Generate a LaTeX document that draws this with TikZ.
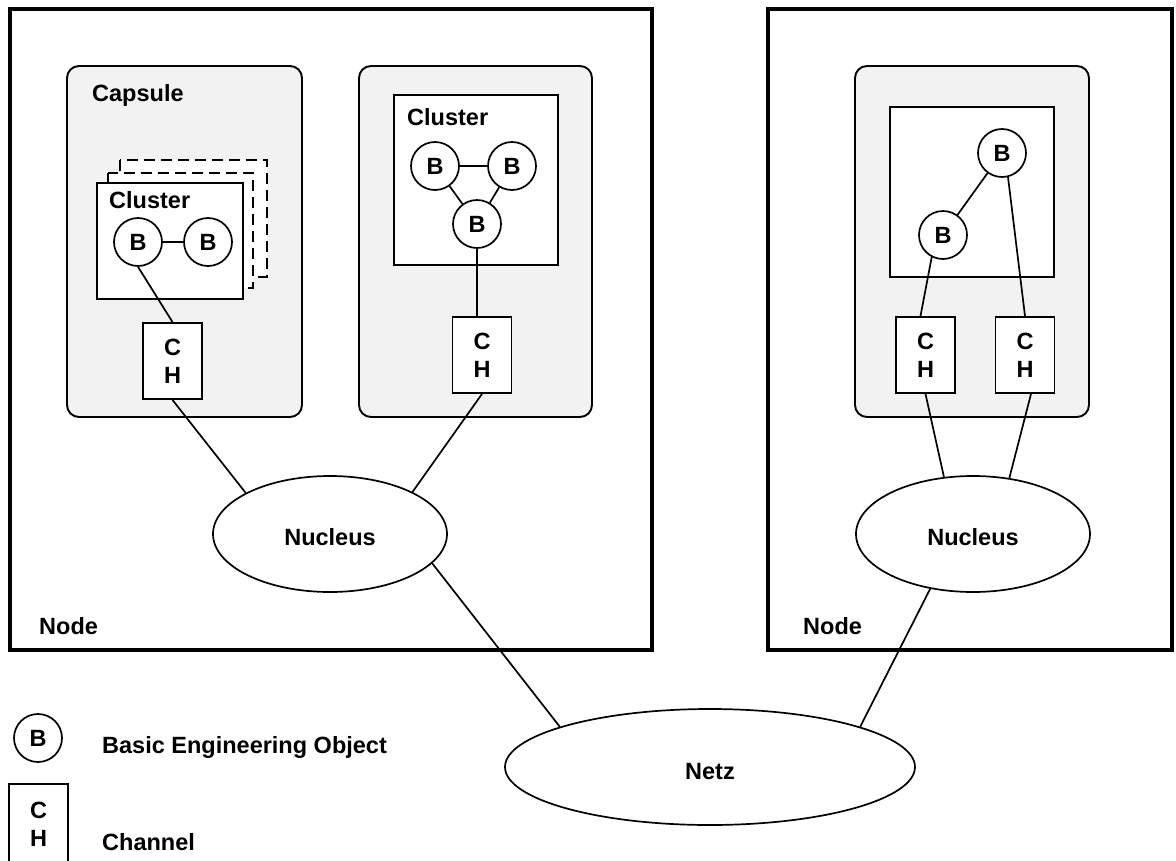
\documentclass[tikz,border=0pt]{standalone}
\usepackage{fontspec}
\setmainfont{Liberation Sans}
\usetikzlibrary{shapes.geometric}
\definecolor{capfill}{RGB}{242,242,242}

\begin{document}
\begin{tikzpicture}[x=1pt,y=-1pt,
  every node/.style={font=\fontsize{23.5}{28}\selectfont\bfseries},
  nodebox/.style={draw,line width=3.5pt},
  capsule/.style={draw,fill=capfill,rounded corners=12pt,line width=1.9pt},
  clusterbox/.style={draw,fill=white,line width=1.9pt},
  stacked/.style={clusterbox,dash pattern=on 11pt off 6pt},
  beo/.style={circle,draw,fill=white,line width=1.7pt,minimum size=48pt,inner sep=0pt},
  chan/.style={rectangle,draw,fill=white,line width=1.9pt,minimum width=59pt,
    minimum height=76pt,inner sep=0pt,align=center},
  kern/.style={ellipse,draw,fill=white,line width=1.7pt,inner sep=0pt,text depth=0pt},
  link/.style={line width=1.7pt},
  txt/.style={anchor=base west,inner sep=0pt}
]
\clip (0,0) rectangle (1176,860);
\fill[white] (0,0) rectangle (1176,860);

% engineering nodes
\draw[nodebox] (10,9) rectangle (652,650);
\draw[nodebox] (768,9) rectangle (1172,650);
\node[txt] (nodeLabelL) at (39,634) {Node};
\node[txt] (nodeLabelR) at (803,634) {Node};

% capsules
\draw[capsule] (67,66) rectangle (302,417);
\draw[capsule] (359,66) rectangle (592,417);
\draw[capsule] (855,66) rectangle (1089,417);
\node[txt] (capLabel) at (92,101) {Capsule};

% capsule 1: stacked clusters
\draw[stacked] (120,160) rectangle (267,277);
\draw[stacked] (108,173) rectangle (253,288);
\draw[clusterbox] (97,183) rectangle (243,299);
\node[txt] (cl1Label) at (109,208) {Cluster};
\node[beo] (b1a) at (138,242) {B};
\node[beo] (b1b) at (208,242) {B};
\node[chan] (ch1) at (172.5,361) {C\\H};
\draw[link] (b1a) -- (b1b);
\draw[link] (b1a.south) -- (ch1.north);

% capsule 2
\draw[clusterbox] (394,95) rectangle (558,265);
\node[txt] (cl2Label) at (407,125) {Cluster};
\node[beo] (b2a) at (435,166) {B};
\node[beo] (b2b) at (512,166) {B};
\node[beo] (b2c) at (477,224) {B};
\node[chan] (ch2) at (482,355) {C\\H};
\draw[link] (b2a) -- (b2b);
\draw[link] (b2a) -- (b2c);
\draw[link] (b2b) -- (b2c);
\draw[link] (b2c.south) -- (b2c.south |- ch2.north);

% capsule 3
\draw[clusterbox] (890,107) rectangle (1054,277);
\node[beo] (b3a) at (1002,153) {B};
\node[beo] (b3b) at (943,235) {B};
\node[chan] (ch3a) at (925.5,355) {C\\H};
\node[chan] (ch3b) at (1025,355) {C\\H};
\draw[link] (b3a) -- (b3b);
\draw[link] (b3b.243) -- ([xshift=-5pt]ch3a.north);
\draw[link] (b3a.284) -- (ch3b.north);

% nuclei and network
\node[kern,minimum width=234pt,minimum height=116pt,text height=22.5pt] (nucL) at (330,534) {Nucleus};
\node[kern,minimum width=234pt,minimum height=116pt,text height=22.5pt] (nucR) at (973,534) {Nucleus};
\node[kern,minimum width=410pt,minimum height=116pt,text height=24.5pt] (netz) at (710,767) {Netz};

\draw[link] (ch1.south) -- (nucL.154);
\draw[link] (ch2.south) -- (nucL.27);
\draw[link] (ch3a.south) -- (nucR.117);
\draw[link] ([xshift=6pt]ch3b.south) -- (nucR.57);
\draw[link] (nucL.-16) -- (netz.165);
\draw[link] (nucR.232) -- (netz.15);

% legend
\node[beo] (legB) at (38,738) {B};
\node[chan,minimum height=80pt] (legCH) at (38.5,824) {C\\H};
\node[txt] (legBText) at (102,753) {Basic Engineering Object};
\node[txt] (legCHText) at (102,850) {Channel};
\end{tikzpicture}
\end{document}
